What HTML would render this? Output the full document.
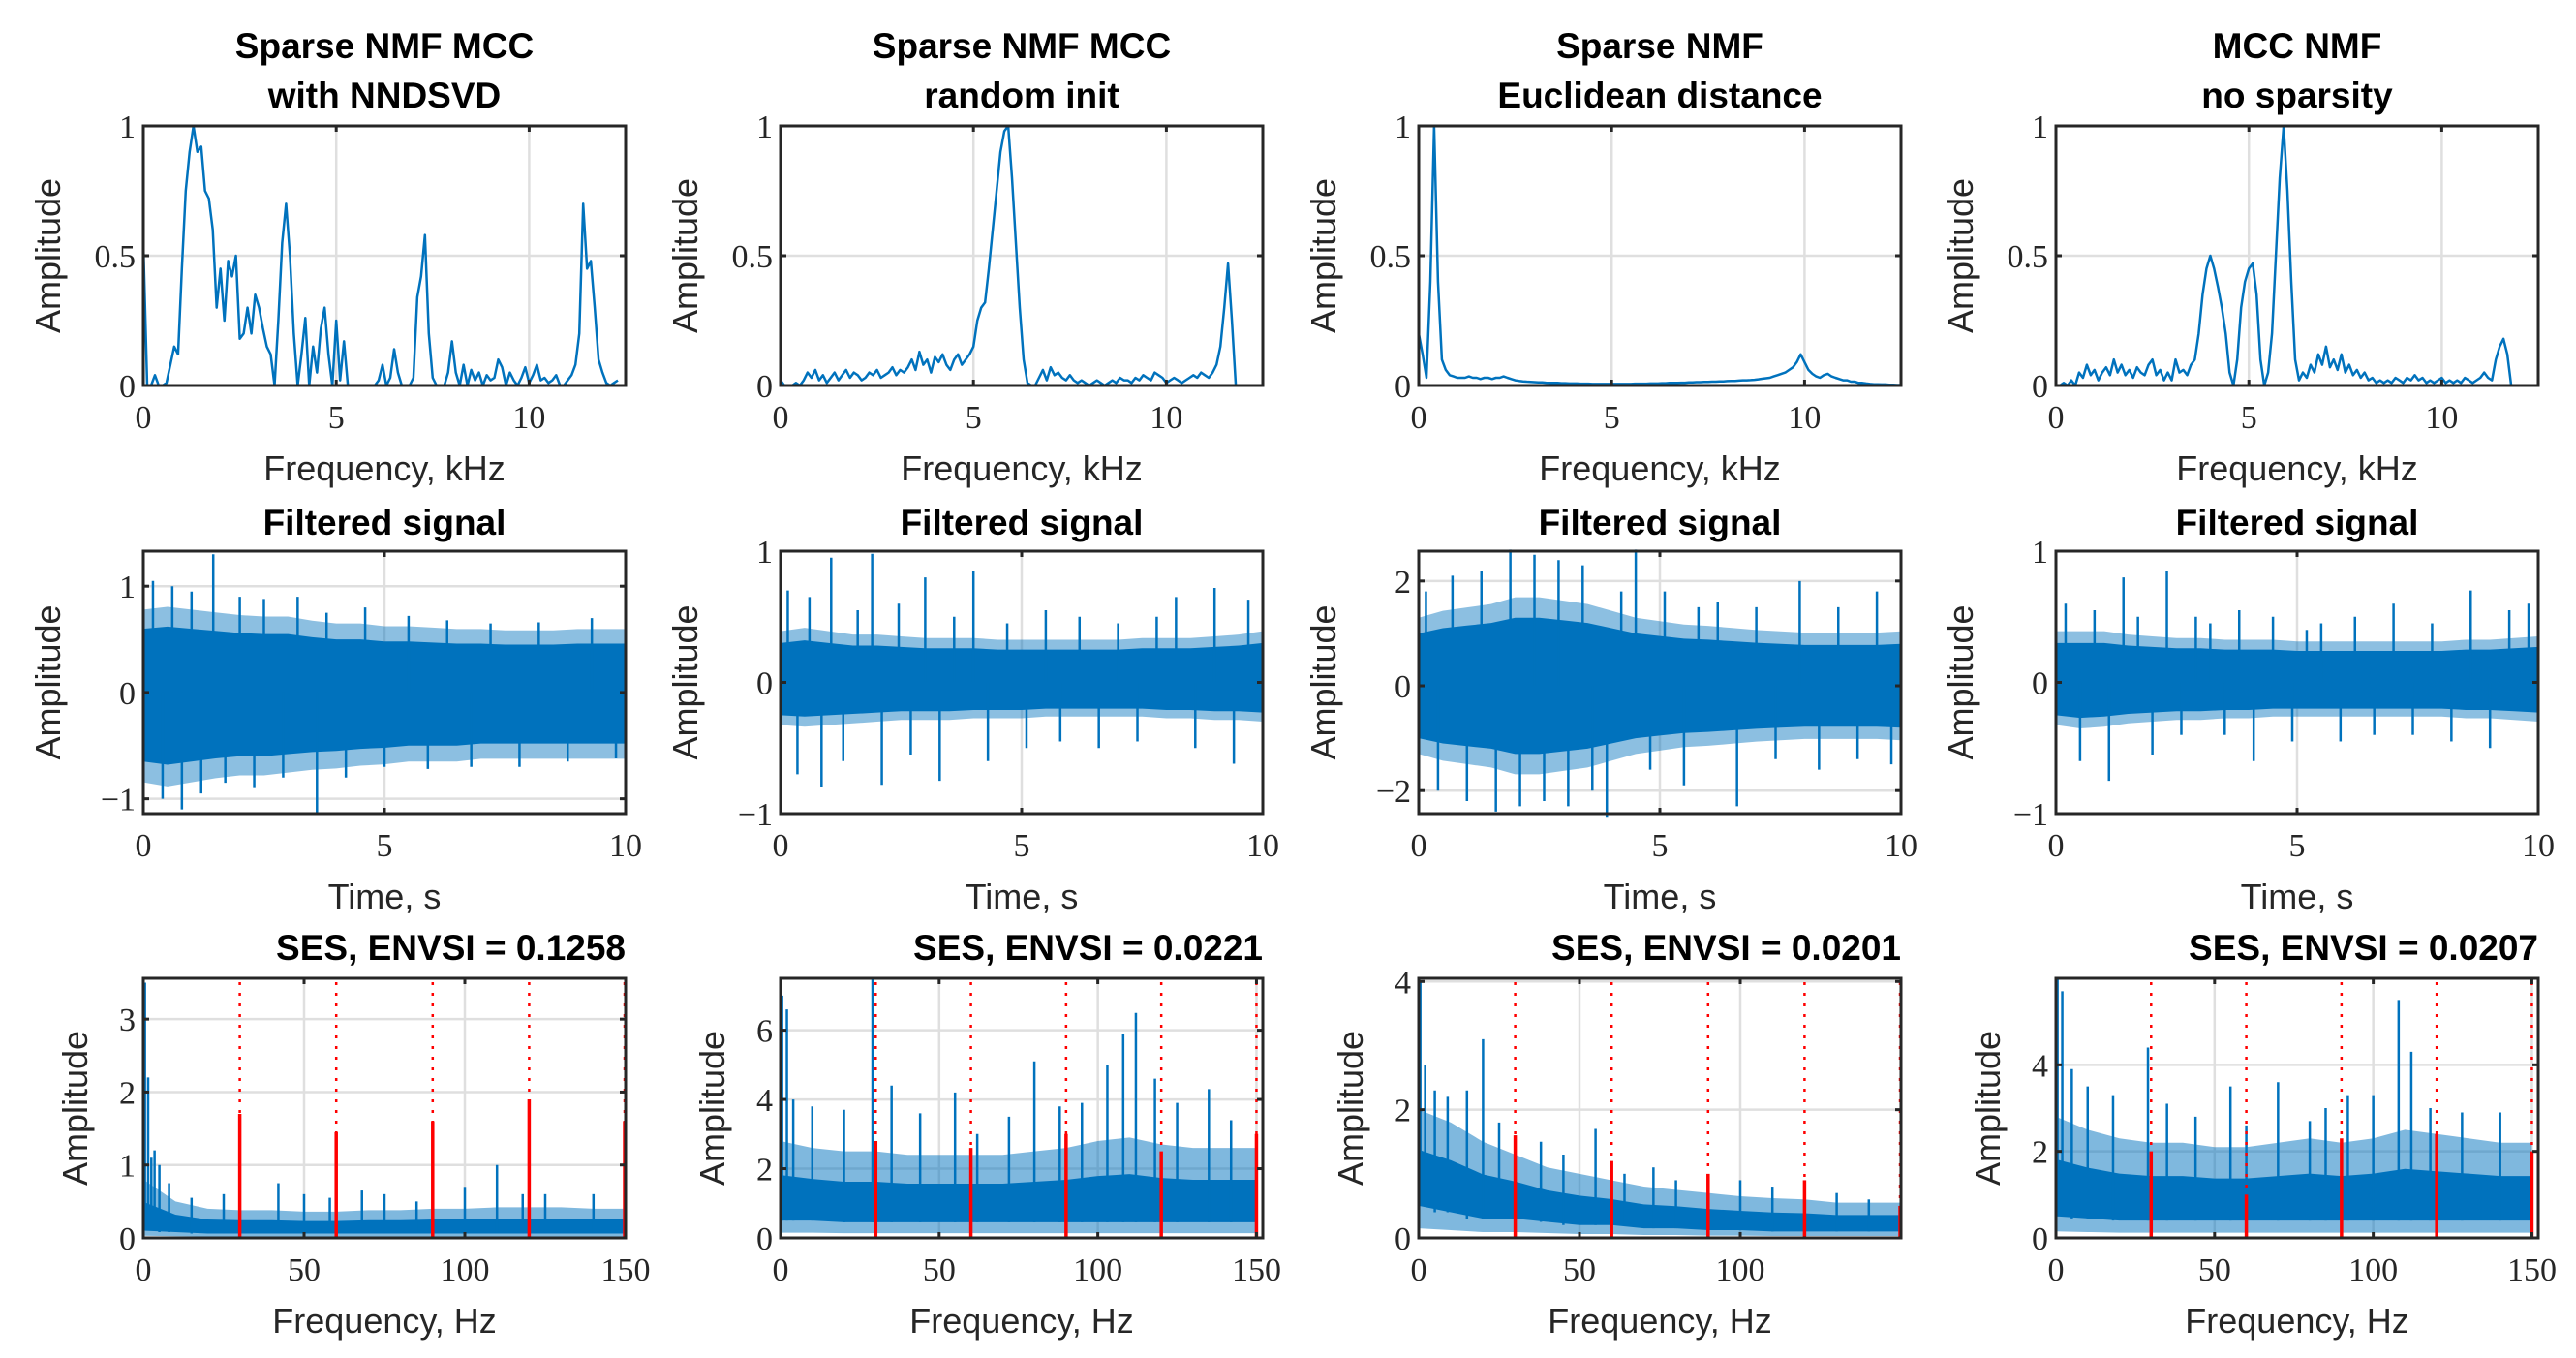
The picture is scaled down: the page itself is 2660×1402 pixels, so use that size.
<!DOCTYPE html>
<html><head><meta charset="utf-8"><style>
html,body{margin:0;padding:0;background:#fff;}
svg{display:block;}
.tk{font-family:"Liberation Serif",serif;font-size:34px;fill:#262626;}
.lb{font-family:"Liberation Sans",sans-serif;font-size:36px;fill:#262626;}
.tt{font-family:"Liberation Sans",sans-serif;font-size:37px;font-weight:bold;fill:#000;}
</style></head><body>
<svg id="fig" width="2660" height="1402" viewBox="0 0 2660 1402" xmlns="http://www.w3.org/2000/svg"></svg>
<script>
// ---- Row 1: spectra (0..12.5 kHz, 0.1 kHz step) ----
const specFreqStep = 0.1;
const spec1 = [0.55,0,0,0.04,0,0,0.01,0.08,0.15,0.12,0.45,0.75,0.9,1.0,0.9,0.92,0.75,0.72,0.6,0.3,0.45,0.25,0.48,0.42,0.5,0.18,0.2,0.3,0.2,0.35,0.3,0.22,0.15,0.12,0,0.25,0.55,0.7,0.5,0.2,0,0.12,0.26,0,0.15,0.05,0.22,0.3,0.12,0,0.25,0.02,0.17,0,0,0,0,0,0,0,0,0.02,0.08,0,0.03,0.14,0.05,0,0,0,0.03,0.34,0.42,0.58,0.2,0.03,0,0,0,0.05,0.17,0.05,0,0.08,0,0.06,0.02,0.05,0,0.04,0.02,0.03,0.1,0.07,0,0.05,0.02,0,0.03,0.07,0.01,0.04,0.08,0.02,0.03,0.01,0.02,0.04,0,0,0.02,0.04,0.08,0.2,0.7,0.45,0.48,0.3,0.1,0.05,0.01,0,0.01,0.02];
const spec2 = [0.02,0,0,0,0.01,0,0.02,0.05,0.03,0.06,
0.02,0.04,0.01,0.03,0.05,0.02,0.04,0.06,0.03,0.05,
0.04,0.02,0.03,0.05,0.04,0.06,0.03,0.04,0.05,0.07,
0.04,0.06,0.05,0.07,0.1,0.06,0.13,0.08,0.1,0.05,
0.11,0.09,0.12,0.08,0.06,0.1,0.12,0.08,0.1,0.12,
0.15,0.25,0.3,0.32,0.45,0.6,0.75,0.9,0.98,1.0,
0.8,0.55,0.3,0.1,0.01,0,0,0.03,0.06,0.02,
0.07,0.04,0.05,0.03,0.02,0.04,0.02,0.01,0.02,0.01,
0,0.01,0.02,0.01,0,0.01,0.02,0.01,0.03,0.02,
0.02,0.01,0.03,0.02,0.04,0.03,0.02,0.05,0.04,0.03,
0.01,0.02,0.03,0.02,0.01,0.02,0.03,0.04,0.03,0.05,
0.04,0.03,0.05,0.08,0.15,0.3,0.47,0.25,0,0,
0,0,0,0,0,0];
const spec3 = [0.2,0.12,0.03,0.4,1.0,0.4,0.1,0.06,0.04,
0.035,0.03,0.03,0.03,0.035,0.03,0.03,0.025,0.03,0.03,0.025,0.03,0.03,0.035,0.03,0.025,0.02,0.018,0.016,0.015,0.014,
0.013,0.012,0.012,0.011,0.01,0.01,0.01,0.009,0.009,0.008,0.008,0.008,0.007,0.007,0.007,0.006,0.006,0.006,0.006,0.006,
0.006,0.006,0.006,0.006,0.006,0.006,0.007,0.007,0.007,0.007,0.008,0.008,0.008,0.009,0.009,0.01,0.01,0.01,0.011,0.011,
0.012,0.012,0.013,0.013,0.014,0.014,0.015,0.015,0.016,0.016,0.017,0.018,0.018,0.019,0.02,0.02,0.021,0.022,0.024,0.026,0.028,
0.03,0.035,0.04,0.045,0.05,0.06,0.07,0.09,0.12,
0.09,0.06,0.045,0.035,0.03,0.04,0.045,0.035,0.03,0.025,0.02,0.02,0.015,0.015,0.01,0.01,0.008,0.006,0.005,0.005,0.004,0.004,0.003,0.003,0.002,0.002];
const spec4 = [0,0,0.01,0,0.02,0,0.05,0.03,0.08,0.04,
0.06,0.02,0.05,0.07,0.04,0.1,0.05,0.08,0.04,0.06,
0.03,0.07,0.05,0.04,0.08,0.1,0.04,0.06,0.02,0.05,
0.02,0.1,0.05,0.06,0.04,0.08,0.1,0.2,0.35,0.45,
0.5,0.45,0.38,0.3,0.2,0.05,0,0.1,0.3,0.4,
0.45,0.47,0.35,0.1,0,0.05,0.2,0.5,0.8,1.0,
0.75,0.4,0.1,0.02,0.05,0.03,0.08,0.05,0.12,0.08,
0.15,0.07,0.1,0.06,0.12,0.05,0.08,0.04,0.06,0.03,
0.05,0.02,0.03,0.01,0.02,0.01,0.02,0.01,0.03,0.02,
0.01,0.03,0.02,0.04,0.02,0.03,0.01,0.02,0.01,0.02,
0.03,0.01,0.02,0.01,0.02,0.01,0.03,0.02,0.01,0.02,
0.03,0.05,0.03,0.02,0.1,0.15,0.18,0.12,0,0,
0,0,0,0,0,0];
const specTicksX = [0,5,10];
const specTicksY = [0,0.5,1];

// ---- Row 2: filtered signals (time 0..10 s); dense band envelopes every 0.5 s ----
const envT = [0,0.5,1,1.5,2,2.5,3,3.5,4,4.5,5,5.5,6,6.5,7,7.5,8,8.5,9,9.5,10];
const sig1Up = [0.6,0.62,0.6,0.58,0.56,0.55,0.55,0.52,0.5,0.5,0.48,0.48,0.47,0.46,0.46,0.45,0.45,0.45,0.46,0.46,0.46];
const sig1Lo = [-0.65,-0.68,-0.65,-0.62,-0.6,-0.6,-0.58,-0.56,-0.55,-0.53,-0.52,-0.5,-0.5,-0.5,-0.48,-0.48,-0.48,-0.48,-0.48,-0.48,-0.48];
const sig1SpT = [0.2,0.4,0.6,0.8,1.0,1.2,1.45,1.7,2.0,2.3,2.5,2.9,3.2,3.6,3.8,4.2,4.6,5.0,5.5,5.9,6.3,6.8,7.2,7.8,8.2,8.8,9.3,9.8];
const sig1SpV = [1.05,-1.0,1.0,-1.1,0.95,-0.95,1.3,-0.85,0.9,-0.9,0.88,-0.8,0.9,-1.14,0.75,-0.8,0.8,-0.7,0.72,-0.72,0.68,-0.7,0.65,-0.7,0.66,-0.65,0.7,-0.62];
const sig2Up = [0.3,0.32,0.3,0.28,0.28,0.27,0.26,0.26,0.26,0.25,0.25,0.25,0.25,0.25,0.25,0.26,0.26,0.26,0.27,0.28,0.3];
const sig2Lo = [-0.25,-0.26,-0.25,-0.24,-0.23,-0.22,-0.22,-0.22,-0.21,-0.21,-0.21,-0.2,-0.2,-0.2,-0.2,-0.2,-0.21,-0.21,-0.22,-0.22,-0.23];
const sig2SpT = [0.15,0.35,0.6,0.85,1.05,1.3,1.6,1.9,2.1,2.45,2.7,3.0,3.3,3.6,4.0,4.3,4.7,5.1,5.5,5.8,6.2,6.6,7.0,7.4,7.8,8.2,8.6,9.0,9.4,9.7];
const sig2SpV = [0.7,-0.7,0.65,-0.8,0.95,-0.6,0.55,0.98,-0.78,0.6,-0.55,0.8,-0.75,0.5,0.85,-0.6,0.45,-0.5,0.55,-0.45,0.5,-0.5,0.45,-0.45,0.5,0.65,-0.5,0.72,-0.62,0.63];
const sig3Up = [1.0,1.1,1.15,1.2,1.3,1.3,1.25,1.2,1.1,1.0,0.95,0.9,0.88,0.85,0.82,0.8,0.78,0.78,0.78,0.78,0.8];
const sig3Lo = [-1.0,-1.1,-1.15,-1.2,-1.3,-1.3,-1.25,-1.2,-1.1,-1.0,-0.95,-0.9,-0.88,-0.85,-0.82,-0.8,-0.78,-0.78,-0.78,-0.78,-0.8];
const sig3SpT = [0.15,0.4,0.7,1.0,1.3,1.6,1.9,2.1,2.4,2.6,2.9,3.1,3.4,3.6,3.9,4.2,4.5,4.8,5.1,5.5,5.8,6.2,6.6,7.0,7.4,7.9,8.3,8.7,9.1,9.5,9.8];
const sig3SpV = [1.8,-2.0,2.1,-2.2,2.2,-2.4,2.6,-2.3,2.5,-2.2,2.4,-2.3,2.3,-2.0,-2.5,1.8,2.6,-1.6,1.8,-1.9,1.5,1.6,-2.3,1.5,-1.4,2.0,-1.6,1.5,-1.4,1.8,-1.5];
const sig4Up = [0.3,0.3,0.3,0.28,0.27,0.26,0.26,0.25,0.25,0.25,0.24,0.24,0.24,0.24,0.24,0.24,0.24,0.25,0.25,0.26,0.27];
const sig4Lo = [-0.25,-0.27,-0.26,-0.24,-0.23,-0.22,-0.22,-0.21,-0.21,-0.2,-0.2,-0.2,-0.2,-0.2,-0.2,-0.2,-0.2,-0.21,-0.21,-0.22,-0.23];
const sig4SpT = [0.2,0.5,0.8,1.1,1.4,1.7,2.0,2.3,2.6,2.9,3.2,3.5,3.8,4.1,4.5,4.9,5.2,5.5,5.9,6.2,6.6,7.0,7.4,7.8,8.2,8.6,9.0,9.4,9.8];
const sig4SpV = [0.6,-0.6,0.55,-0.75,0.8,0.5,-0.55,0.85,-0.4,0.5,0.45,-0.4,0.55,-0.6,0.5,-0.45,0.4,0.45,-0.45,0.5,-0.4,0.6,-0.4,0.45,-0.45,0.7,-0.5,0.55,0.6];
const sigTicksX = [0,5,10];

// ---- Row 3: squared envelope spectra (0..150 Hz), band envelope every 10 Hz ----
const sesF = [0,10,20,30,40,50,60,70,80,90,100,110,120,130,140,150];
const ses1Lo = [0.1,0.08,0.06,0.06,0.06,0.06,0.06,0.06,0.06,0.06,0.06,0.06,0.06,0.06,0.06,0.06];
const ses1Hi = [0.8,0.5,0.4,0.38,0.38,0.36,0.36,0.38,0.38,0.4,0.4,0.42,0.42,0.42,0.4,0.4];
const ses1SpF = [0.5,1.5,2.5,3.5,5,8,15,25,42,50,58,68,75,85,100,110,118,125,140];
const ses1SpV = [3.5,2.2,1.1,1.2,1.0,0.75,0.55,0.6,0.75,0.6,0.55,0.65,0.6,0.5,0.7,1.0,0.6,0.6,0.6];
const ses1Harm = [1.7,1.45,1.6,1.9,1.6];
const ses2Lo = [0.5,0.5,0.45,0.45,0.45,0.45,0.45,0.45,0.45,0.45,0.45,0.45,0.45,0.45,0.45,0.45];
const ses2Hi = [2.8,2.6,2.5,2.5,2.4,2.4,2.4,2.4,2.5,2.6,2.8,2.9,2.7,2.6,2.6,2.6];
const ses2SpF = [0.5,2,4,10,20,29,35,44,55,62,72,80,88,95,103,108,112,118,125,135,142];
const ses2SpV = [7.0,6.6,4.0,3.8,3.7,7.5,4.4,3.6,4.2,3.0,3.5,5.1,3.8,3.9,5.0,5.9,6.5,4.6,3.9,4.3,3.4];
const ses2Harm = [2.8,2.6,3.0,2.5,3.0];
const ses3Lo = [0.5,0.4,0.3,0.3,0.25,0.2,0.2,0.15,0.15,0.12,0.12,0.1,0.1,0.1,0.1,0.1];
const ses3Hi = [2.0,1.8,1.5,1.3,1.1,1.0,0.9,0.8,0.75,0.7,0.65,0.62,0.6,0.55,0.55,0.55];
const ses3SpF = [0.5,2,5,9,15,20,25,30,38,45,55,64,73,80,90,100,110,120,130,140];
const ses3SpV = [4.0,2.7,2.3,2.2,2.3,3.1,1.8,1.6,1.5,1.3,1.7,1.0,1.1,0.9,0.8,0.9,0.8,0.8,0.7,0.6];
const ses3Harm = [1.6,1.2,1.0,0.9,0.5];
const ses4Lo = [0.5,0.45,0.4,0.4,0.4,0.4,0.4,0.4,0.4,0.4,0.4,0.4,0.4,0.4,0.4,0.4];
const ses4Hi = [2.8,2.5,2.3,2.2,2.2,2.1,2.1,2.2,2.3,2.2,2.3,2.5,2.4,2.3,2.2,2.2];
const ses4SpF = [0.5,2,5,10,18,29,35,44,55,60,70,80,85,92,100,108,112,118,128,140];
const ses4SpV = [6.0,5.7,3.9,3.5,3.3,4.4,3.1,2.8,3.5,2.6,3.6,2.7,3.0,3.3,3.3,5.5,4.3,3.0,2.9,2.9];
const ses4Harm = [2.0,1.0,2.3,2.4,2.0];
const harmF = [30,60,90,120,150];

// ---- layout ----
const NS="http://www.w3.org/2000/svg";
const svg=document.getElementById('fig');
const colX=[148,806,1465,2123], W=498;
const rows=[{t:130,b:398},{t:569,b:840},{t:1010,b:1278}];
const BLUE="#0072BD";
function mk(tag,attrs,parent){const e=document.createElementNS(NS,tag);for(const k in attrs)e.setAttribute(k,attrs[k]);(parent||svg).appendChild(e);return e;}
function fmt(v){if(v<0)return '\u2212'+String(-v);return String(v);}

function axesFrame(g,x0,y0,x1,y1,xs,ys,xticks,yticks){
  const grid=mk('g',{},g);
  
  
  xticks.forEach(v=>{const x=xs(v);if(x>x0+2&&x<x1-2)mk('line',{x1:x,y1:y0,x2:x,y2:y1,stroke:'#dfdfdf','stroke-width':2.5},grid);});
  yticks.forEach(v=>{const y=ys(v);if(y>y0+2&&y<y1-2)mk('line',{x1:x0,y1:y,x2:x1,y2:y,stroke:'#dfdfdf','stroke-width':2.5},grid);});
}
function axesBox(g,x0,y0,x1,y1,xs,ys,xticks,yticks,xlab,ylabX){
  mk('rect',{x:x0,y:y0,width:x1-x0,height:y1-y0,fill:'none',stroke:'#262626','stroke-width':3},g);
  xticks.forEach(v=>{const x=xs(v);
    mk('line',{x1:x,y1:y1,x2:x,y2:y1-6,stroke:'#262626','stroke-width':3},g);
    mk('line',{x1:x,y1:y0,x2:x,y2:y0+6,stroke:'#262626','stroke-width':3},g);
    const t=mk('text',{x:x,y:y1+44,'text-anchor':'middle',class:'tk'},g);t.textContent=fmt(v);
    
    });
  yticks.forEach(v=>{const y=ys(v);
    mk('line',{x1:x0,y1:y,x2:x0+6,y2:y,stroke:'#262626','stroke-width':3},g);
    mk('line',{x1:x1,y1:y,x2:x1-6,y2:y,stroke:'#262626','stroke-width':3},g);
    const t=mk('text',{x:x0-8,y:y+12,'text-anchor':'end',class:'tk'},g);t.textContent=fmt(v);
    
    });
  const xl=mk('text',{x:(x0+x1)/2,y:y1+98,'text-anchor':'middle',class:'lb'},g);xl.textContent=xlab;
  
  
  const cy=(y0+y1)/2;
  const yl=mk('text',{x:ylabX,y:cy,'text-anchor':'middle',class:'lb',transform:`rotate(-90 ${ylabX} ${cy})`},g);yl.textContent='Amplitude';
  
  
}

// Row 1
const titles1=[["Sparse NMF MCC","with NNDSVD"],["Sparse NMF MCC","random init"],["Sparse NMF","Euclidean distance"],["MCC NMF","no sparsity"]];
const specs=[spec1,spec2,spec3,spec4];
specs.forEach((sp,i)=>{
  const g=mk('g',{});
  
  
  const x0=colX[i],x1=x0+W,y0=rows[0].t,y1=rows[0].b;
  const xs=v=>x0+v/12.5*W, ys=v=>y1-v*(y1-y0);
  axesFrame(g,x0,y0,x1,y1,xs,ys,specTicksX,specTicksY);
  const pts=sp.map((v,k)=>xs(k*specFreqStep).toFixed(1)+','+ys(v).toFixed(1)).join(' ');
  const pl=mk('polyline',{points:pts,fill:'none',stroke:BLUE,'stroke-width':2.5,'stroke-linejoin':'round'},g);
  
  
  axesBox(g,x0,y0,x1,y1,xs,ys,specTicksX,specTicksY,'Frequency, kHz',x0-86);
  titles1[i].forEach((s,k)=>{const t=mk('text',{x:(x0+x1)/2,y:60+k*51,'text-anchor':'middle',class:'tt'},g);t.textContent=s;
    
    });
});

// Row 2
const sigs=[[sig1Up,sig1Lo,sig1SpT,sig1SpV,[-1.14,1.33],[-1,0,1]],[sig2Up,sig2Lo,sig2SpT,sig2SpV,[-1,1],[-1,0,1]],[sig3Up,sig3Lo,sig3SpT,sig3SpV,[-2.44,2.57],[-2,0,2]],[sig4Up,sig4Lo,sig4SpT,sig4SpV,[-1,1],[-1,0,1]]];
sigs.forEach((s,i)=>{
  const g=mk('g',{});
  
  
  const x0=colX[i],x1=x0+W,y0=rows[1].t,y1=rows[1].b,[lo,hi]=s[4];
  const xs=v=>x0+v/10*W, ys=v=>y1-(v-lo)/(hi-lo)*(y1-y0);
  axesFrame(g,x0,y0,x1,y1,xs,ys,sigTicksX,s[5]);
  let p=envT.map((t,k)=>xs(t)+','+ys(s[0][k]*1.3)).join(' ')+' '+envT.slice().reverse().map((t,k)=>xs(t)+','+ys(s[1][envT.length-1-k]*1.3)).join(' ');
  const fr=mk('polygon',{points:p,fill:BLUE,opacity:0.45},g);
  
  
  p=envT.map((t,k)=>xs(t)+','+ys(s[0][k])).join(' ')+' '+envT.slice().reverse().map((t,k)=>xs(t)+','+ys(s[1][envT.length-1-k])).join(' ');
  const band=mk('polygon',{points:p,fill:BLUE},g);
  
  
  s[2].forEach((t,k)=>{const l=mk('line',{x1:xs(t),y1:ys(0),x2:xs(t),y2:ys(s[3][k]),stroke:BLUE,'stroke-width':2.5},g);
    
    });
  axesBox(g,x0,y0,x1,y1,xs,ys,sigTicksX,s[5],'Time, s',x0-86);
  const t=mk('text',{x:(x0+x1)/2,y:552,'text-anchor':'middle',class:'tt'},g);t.textContent='Filtered signal';
  
  
});

// Row 3
const sesAll=[[ses1Lo,ses1Hi,ses1SpF,ses1SpV,ses1Harm,3.56,[0,1,2,3],150,[0,50,100,150],'0.1258'],
 [ses2Lo,ses2Hi,ses2SpF,ses2SpV,ses2Harm,7.5,[0,2,4,6],152,[0,50,100,150],'0.0221'],
 [ses3Lo,ses3Hi,ses3SpF,ses3SpV,ses3Harm,4.05,[0,2,4],150,[0,50,100],'0.0201'],
 [ses4Lo,ses4Hi,ses4SpF,ses4SpV,ses4Harm,6.0,[0,2,4],152,[0,50,100,150],'0.0207']];
sesAll.forEach((s,i)=>{
  const g=mk('g',{});
  
  
  const x0=colX[i],x1=x0+W,y0=rows[2].t,y1=rows[2].b,ymax=s[5],xmax=s[7];
  const xs=v=>x0+v/xmax*W, ys=v=>y1-v/ymax*(y1-y0);
  axesFrame(g,x0,y0,x1,y1,xs,ys,s[8],s[6]);
  let p=sesF.map((f,k)=>xs(f)+','+ys(s[1][k])).join(' ')+' '+sesF.slice().reverse().map((f,k)=>xs(f)+','+ys(s[0][sesF.length-1-k]*0.3)).join(' ');
  const fr=mk('polygon',{points:p,fill:BLUE,opacity:0.5},g);
  
  
  p=sesF.map((f,k)=>xs(f)+','+ys((s[1][k]+s[0][k])*0.55)).join(' ')+' '+sesF.slice().reverse().map((f,k)=>xs(f)+','+ys(s[0][sesF.length-1-k])).join(' ');
  const band=mk('polygon',{points:p,fill:BLUE},g);
  
  
  s[2].forEach((f,k)=>{const l=mk('line',{x1:xs(f),y1:ys(s[0][Math.min(15,Math.round(f/10))]),x2:xs(f),y2:ys(Math.min(s[3][k],ymax)),stroke:BLUE,'stroke-width':2.5},g);
    
    });
  harmF.forEach((f,k)=>{const x=Math.min(xs(f),x1-1);
    const d=mk('line',{x1:x,y1:y0+4,x2:x,y2:y1,stroke:'#ff0000','stroke-width':2.5,'stroke-dasharray':'3 8'},g);
    
    
    const r=mk('line',{x1:x,y1:y1,x2:x,y2:ys(s[4][k]),stroke:'#ff0000','stroke-width':3.5},g);
    
    });
  axesBox(g,x0,y0,x1,y1,xs,ys,s[8],s[6],'Frequency, Hz',x0-58);
  const t=mk('text',{x:x1,y:991,'text-anchor':'end',class:'tt'},g);t.textContent='SES, ENVSI = '+s[9];
  
  
});
</script>
</body></html>
